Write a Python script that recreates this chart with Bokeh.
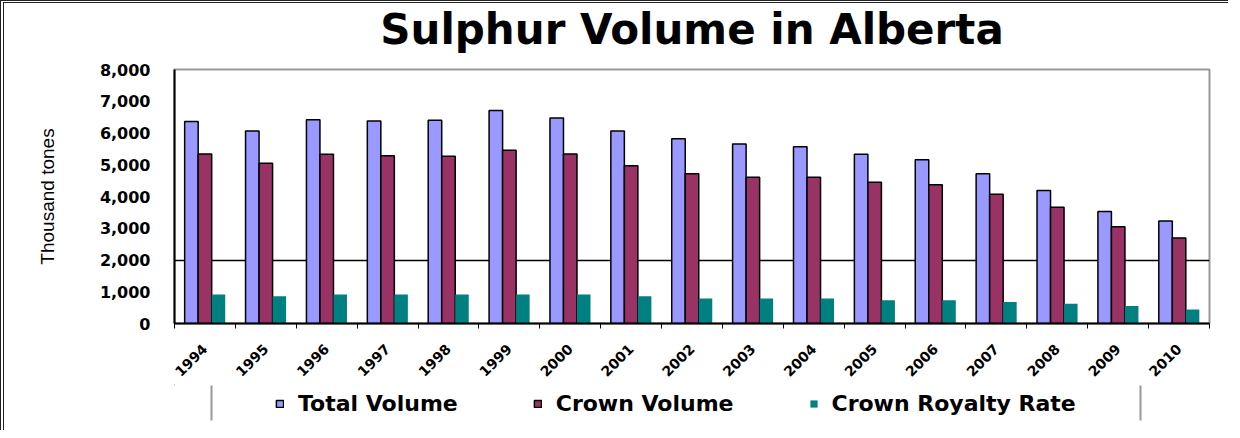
import math
from bokeh.plotting import figure
from bokeh.layouts import column
from bokeh.models import Range1d, FixedTicker, NumeralTickFormatter, Legend, LegendItem
from bokeh.embed import file_html
from bokeh.resources import INLINE

years = ["1994", "1995", "1996", "1997", "1998", "1999", "2000", "2001", "2002",
         "2003", "2004", "2005", "2006", "2007", "2008", "2009", "2010"]
total_volume = [6360, 6060, 6420, 6380, 6400, 6710, 6470, 6060, 5820, 5650, 5570,
                5330, 5160, 4720, 4190, 3530, 3230]
crown_volume = [5340, 5050, 5330, 5280, 5270, 5460, 5340, 4970, 4720, 4610, 4610,
                4450, 4370, 4070, 3660, 3050, 2690]
crown_royalty = [910, 860, 910, 910, 910, 910, 910, 860, 790, 790, 790,
                 730, 730, 680, 620, 550, 440]
y_ticks = [0, 1000, 2000, 3000, 4000, 5000, 6000, 7000, 8000]
series_names = ["Total Volume", "Crown Volume", "Crown Royalty Rate"]
series_fill = ["#9999FF", "#993366", "#008080"]
series_line = ["black", "black", None]

n = len(years)
centers = [i + 0.5 for i in range(n)]
bw = 0.222

W = 1224
ML, MR = 170, 19
FW = W - ML - MR

# title strip (frame aligned with the main frame by the column layout)
H0 = 56
p0 = figure(width=W, height=H0, output_backend="svg", toolbar_location=None,
            x_range=Range1d(0, FW), y_range=Range1d(0, 1),
            x_axis_location=None, y_axis_location=None,
            min_border_left=ML, min_border_right=MR, min_border_top=0, min_border_bottom=0)
p0.outline_line_color = None
p0.grid.visible = False
p0.background_fill_color = "white"
p0.border_fill_color = "white"
p0.title.text = "Sulphur Volume in Alberta"
p0.title.align = "center"
p0.title.vertical_align = "top"
p0.title.text_font = "DejaVu Sans"
p0.title.text_font_style = "bold"
p0.title.text_font_size = "42px"
p0.title.text_color = "black"
p0.title.offset = -13
p0.title.standoff = 3

p = figure(width=W, height=381 - H0, output_backend="svg", toolbar_location=None,
           x_range=Range1d(0, n), y_range=Range1d(0, 8000),
           min_border_left=ML, min_border_right=MR, min_border_top=66 - H0,
           min_border_bottom=60)
p.background_fill_color = "white"
p.border_fill_color = "white"
p.outline_line_color = "#999999"
p.outline_line_width = 2

renderers = []
for k, (vals, off) in enumerate(zip([total_volume, crown_volume, crown_royalty], [-bw, 0, bw])):
    renderers.append(p.vbar(x=[c + off for c in centers], top=vals, width=bw,
                            fill_color=series_fill[k], line_color=series_line[k],
                            line_width=1.5))

# x axis
p.xaxis.ticker = FixedTicker(ticks=centers, minor_ticks=list(range(n + 1)))
p.xaxis.major_label_overrides = {c: y for c, y in zip(centers, years)}
p.xaxis.major_label_orientation = math.pi / 4
p.xaxis.major_tick_line_color = None
p.xaxis.major_tick_out = 0
p.xaxis.minor_tick_line_color = "black"
p.xaxis.minor_tick_out = 5
p.xaxis.minor_tick_in = 0
p.xaxis.major_label_standoff = 18
p.xaxis.major_label_text_font = "DejaVu Sans"
p.xaxis.major_label_text_font_style = "bold"
p.xaxis.major_label_text_font_size = "14px"
p.xaxis.major_label_text_color = "black"
p.xaxis.axis_line_color = "black"
p.xaxis.axis_line_width = 2

# y axis
p.yaxis.ticker = FixedTicker(ticks=y_ticks)
p.yaxis.formatter = NumeralTickFormatter(format="0,0")
p.yaxis.major_tick_out = 0
p.yaxis.major_tick_in = 0
p.yaxis.minor_tick_line_color = None
p.yaxis.major_label_standoff = 24
p.yaxis.major_label_text_font = "DejaVu Sans"
p.yaxis.major_label_text_font_style = "bold"
p.yaxis.major_label_text_font_size = "16px"
p.yaxis.major_label_text_color = "black"
p.yaxis.axis_line_color = "black"
p.yaxis.axis_line_width = 2
p.yaxis.axis_label = "Thousand tones"
p.yaxis.axis_label_text_font = "'Liberation Sans Narrow', 'Liberation Sans'"
p.yaxis.axis_label_text_font_style = "normal"
p.yaxis.axis_label_text_font_size = "19px"
p.yaxis.axis_label_text_color = "black"
p.yaxis.axis_label_standoff = 39

p.xgrid.visible = False
p.ygrid.ticker = FixedTicker(ticks=[2000])
p.ygrid.grid_line_color = "black"
p.ygrid.grid_line_width = 1.5

# legend strip
H2 = 46
p2 = figure(width=W, height=H2, output_backend="svg", toolbar_location=None,
            x_range=Range1d(0, FW), y_range=Range1d(H2, 0),
            x_axis_location=None, y_axis_location=None,
            min_border_left=ML, min_border_right=MR, min_border_top=0, min_border_bottom=0)
p2.outline_line_color = None
p2.grid.visible = False
p2.background_fill_color = "white"
p2.border_fill_color = "white"

legend_renderers = [p2.vbar(x=[-1000], top=[0], width=1, fill_color=series_fill[k],
                            line_color=series_line[k], line_width=1.5) for k in range(3)]
p2.segment(x0=[37, 966], y0=[1, 1], x1=[37, 966], y1=[36, 36],
           line_color="#999999", line_width=2)

legend = Legend(items=[LegendItem(label=series_names[k], renderers=[legend_renderers[k]])
                       for k in range(3)],
                location=(101, 14), orientation="horizontal",
                glyph_width=9, glyph_height=9, label_standoff=14, spacing=75,
                padding=5, margin=0, border_line_color=None,
                background_fill_alpha=0,
                label_text_font="DejaVu Sans", label_text_font_style="bold",
                label_text_font_size="22px", label_text_color="black")
p2.add_layout(legend, "center")

layout = column(p0, p, p2, spacing=0,
                styles={"border-left": "4px double #222", "border-top": "3px double #222"})

open("out.html", "w").write(file_html(layout, INLINE))
